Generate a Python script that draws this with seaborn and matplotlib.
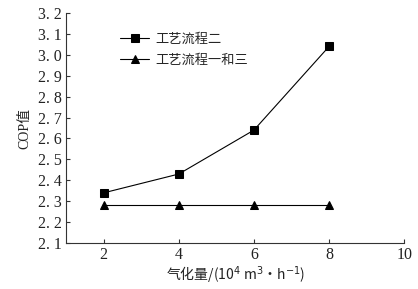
import matplotlib
matplotlib.use("Agg")
import matplotlib.pyplot as plt
import seaborn as sns
import pandas as pd

x_vals = [2, 4, 6, 8]
series_two = [2.34, 2.43, 2.64, 3.04]
series_one_three = [2.28, 2.28, 2.28, 2.28]
name_two = "工艺流程二"
name_one_three = "工艺流程一和三"
x_ticks = [2, 4, 6, 8, 10]
y_ticks = [2.1, 2.2, 2.3, 2.4, 2.5, 2.6, 2.7, 2.8, 2.9, 3.0, 3.1, 3.2]

df = pd.DataFrame({
    "x": x_vals * 2,
    "y": series_two + series_one_three,
    "s": [name_two] * len(x_vals) + [name_one_three] * len(x_vals),
})

sns.set_theme(style="ticks")
plt.rcParams['font.family'] = ['Liberation Serif', 'Noto Sans CJK SC']
plt.rcParams['xtick.direction'] = 'in'
plt.rcParams['ytick.direction'] = 'in'

fig = plt.figure(figsize=(4.18, 2.89), dpi=100)
ax = fig.add_axes([0.158, 0.159, 0.809, 0.796])

sns.lineplot(data=df, x="x", y="y", hue="s", style="s",
             palette=["black", "black"], markers=["s", "^"], dashes=False,
             markersize=5.5, linewidth=0.8, markeredgecolor="black", ax=ax)

ax.set_xlim(1, 10)
ax.set_ylim(2.1, 3.2)
ax.set_xticks(x_ticks)
ax.set_yticks(y_ticks)
ax.set_xticklabels([str(t) for t in x_ticks], fontsize=11.5)
ax.set_yticklabels([f"{t:.1f}".replace(".", ". ") for t in y_ticks], fontsize=11.5)
ax.tick_params(length=3, width=0.8, colors="#333333", labelcolor="#222222", pad=3)
for s in ["top", "right"]:
    ax.spines[s].set_visible(False)
for s in ["left", "bottom"]:
    ax.spines[s].set_linewidth(0.8)
    ax.spines[s].set_color("#333333")

ax.set_xlabel("气化量/(10$^4$ m$^3$·h$^{-1}$)", fontsize=10,
              family=['Noto Sans CJK SC', 'DejaVu Sans'], color="#222222", labelpad=1)
ax.set_ylabel("COP值", fontsize=10, family=['Liberation Serif', 'Noto Sans CJK SC'],
              color="#222222", labelpad=5)

leg = ax.legend(loc="upper left", bbox_to_anchor=(0.125, 0.965), frameon=False,
                prop={'family': ['Noto Sans CJK SC'], 'size': 9.5},
                handlelength=2.2, handletextpad=0.5, labelspacing=0.6)

fig.savefig("out.png", dpi=100)
